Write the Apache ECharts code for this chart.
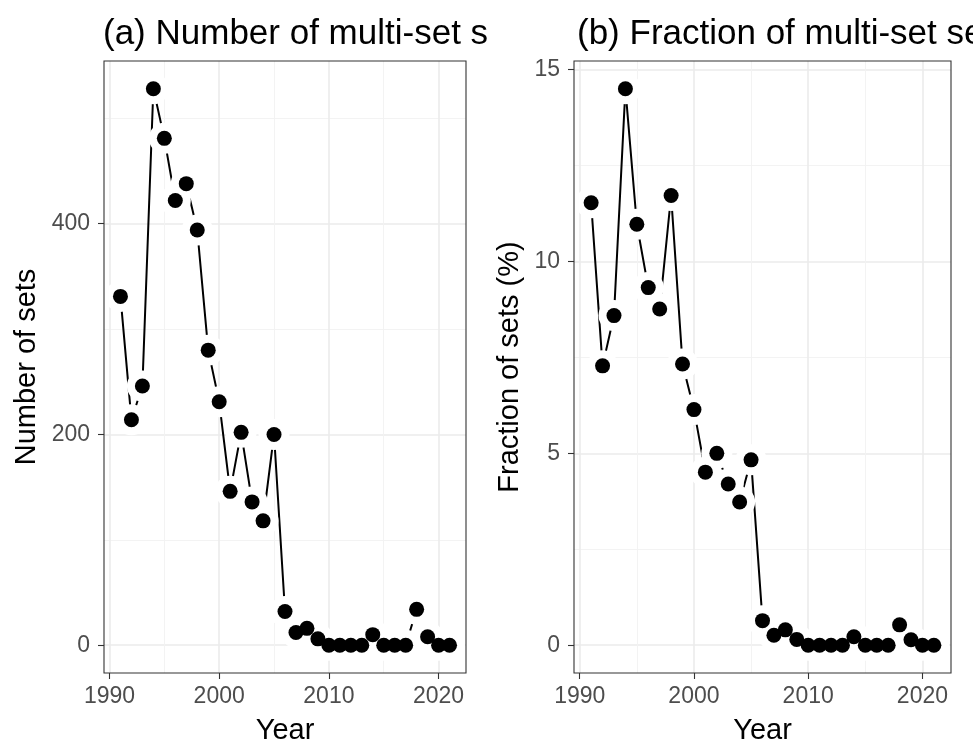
<!DOCTYPE html>
<html>
<head>
<meta charset="utf-8">
<script src="https://cdn.jsdelivr.net/npm/echarts@6/dist/echarts.min.js"></script>
<style>html,body{margin:0;padding:0;background:#fff}#c{width:973px;height:750px}</style>
</head>
<body>
<div id="c"></div>
<script>
const years = [1991, 1992, 1993, 1994, 1995, 1996, 1997, 1998, 1999, 2000,
  2001, 2002, 2003, 2004, 2005, 2006, 2007, 2008, 2009, 2010,
  2011, 2012, 2013, 2014, 2015, 2016, 2017, 2018, 2019, 2020, 2021];
const setCounts = [331, 214, 246, 528, 481, 422, 438, 394, 280, 231,
  146, 202, 136, 118, 200, 32, 12, 16, 6, 0,
  0, 0, 0, 10, 0, 0, 0, 34, 8, 0, 0];
const setFractions = [11.53, 7.28, 8.59, 14.50, 10.97, 9.32, 8.76, 11.72, 7.33, 6.14,
  4.51, 5.00, 4.20, 3.73, 4.83, 0.64, 0.26, 0.40, 0.15, 0,
  0, 0, 0, 0.22, 0, 0, 0, 0.53, 0.14, 0, 0];
const xTickLabels = [1990, 2000, 2010, 2020];
const xMinorGrid = [1995, 2005, 2015];
const countTicks = [0, 200, 400];
const countMinorGrid = [100, 300, 500];
const fractionTicks = [0, 5, 10, 15];
const fractionMinorGrid = [2.5, 7.5, 12.5];
const panelTitles = ['(a) Number of multi-set s', '(b) Fraction of multi-set se'];
const xTitle = 'Year';
const yTitles = ['Number of sets', 'Fraction of sets (%)'];

const FONT = "'Liberation Sans', Arial, Helvetica, sans-serif";
const chart = echarts.init(document.getElementById('c'), null, {renderer: 'canvas'});
function pairs(vals) { return years.map((y, i) => [y, vals[i]]); }

const majorLine = {color: '#ebebeb', width: 1.6};
const minorLine = {color: '#f2f2f2', width: 0.9};
const tickStyle = {show: true, length: 6, inside: false, lineStyle: {color: '#333333', width: 1.1}};
const labelStyle = {color: '#4d4d4d', fontSize: 23, fontFamily: FONT};
const nameStyle = {color: '#000000', fontSize: 29, fontFamily: FONT};

function xAxesFor(gridIndex) {
  return [
    {type: 'value', gridIndex, min: 1989.5, max: 2022.5, position: 'bottom',
      name: xTitle, nameLocation: 'middle', nameGap: 43, nameTextStyle: nameStyle,
      axisLine: {show: false, onZero: false},
      axisTick: Object.assign({customValues: xTickLabels}, tickStyle),
      axisLabel: Object.assign({customValues: xTickLabels, margin: 12, formatter: v => String(v)}, labelStyle),
      splitLine: {show: true, lineStyle: majorLine}},
    {type: 'value', gridIndex, min: 1989.5, max: 2022.5, position: 'bottom',
      axisLine: {show: false, onZero: false},
      axisTick: {show: false, customValues: xMinorGrid},
      axisLabel: {show: false, customValues: xMinorGrid},
      splitLine: {show: true, lineStyle: minorLine}}
  ];
}
function yAxesFor(gridIndex, min, max, ticks, minor, name, gap) {
  return [
    {type: 'value', gridIndex, min, max, position: 'left',
      name, nameLocation: 'middle', nameGap: gap, nameRotate: 90, nameTextStyle: nameStyle,
      axisLine: {show: false, onZero: false},
      axisTick: Object.assign({customValues: ticks}, tickStyle),
      axisLabel: Object.assign({customValues: ticks, margin: 14, formatter: v => String(v)}, labelStyle),
      splitLine: {show: true, lineStyle: majorLine}},
    {type: 'value', gridIndex, min, max, position: 'left',
      axisLine: {show: false, onZero: false},
      axisTick: {show: false, customValues: minor},
      axisLabel: {show: false, customValues: minor},
      splitLine: {show: true, lineStyle: minorLine}}
  ];
}
function seriesFor(xi, yi, vals) {
  const d = pairs(vals);
  return [
    {type: 'line', xAxisIndex: xi, yAxisIndex: yi, data: d, symbol: 'none', showSymbol: false,
      lineStyle: {color: '#000000', width: 2, opacity: 1}, silent: true, z: 2},
    {type: 'scatter', xAxisIndex: xi, yAxisIndex: yi, data: d, symbol: 'circle', symbolSize: 31,
      itemStyle: {color: '#ffffff', opacity: 1}, silent: true, z: 3},
    {type: 'scatter', xAxisIndex: xi, yAxisIndex: yi, data: d, symbol: 'circle', symbolSize: 15,
      itemStyle: {color: '#000000', opacity: 1}, silent: true, z: 4}
  ];
}

const titleStyle = {fontSize: 35, fontWeight: 'normal', color: '#000', fontFamily: FONT};
const option = {
  animation: false,
  backgroundColor: '#ffffff',
  title: [
    {text: panelTitles[0], left: 103, top: 17, padding: 0, textStyle: titleStyle},
    {text: panelTitles[1], left: 577, top: 17, padding: 0, textStyle: titleStyle}
  ],
  grid: [
    {left: 104, top: 61, width: 362, height: 620, show: true, borderColor: '#333333', borderWidth: 1.1, backgroundColor: 'transparent', z: 10},
    {left: 574, top: 61, width: 377, height: 620, show: true, borderColor: '#333333', borderWidth: 1.1, backgroundColor: 'transparent', z: 10}
  ],
  xAxis: [...xAxesFor(0), ...xAxesFor(1)],
  yAxis: [
    ...yAxesFor(0, -26.4, 554.4, countTicks, countMinorGrid, yTitles[0], 63),
    ...yAxesFor(1, -0.725, 15.225, fractionTicks, fractionMinorGrid, yTitles[1], 50)
  ],
  series: [...seriesFor(0, 0, setCounts), ...seriesFor(2, 2, setFractions)]
};
chart.setOption(option);
</script>
</body>
</html>
